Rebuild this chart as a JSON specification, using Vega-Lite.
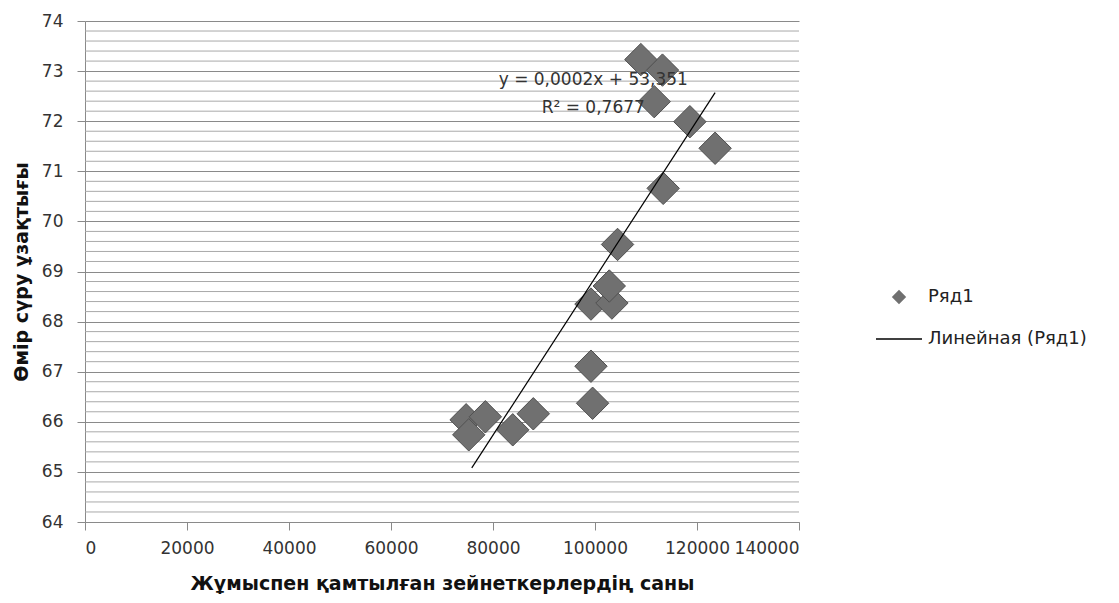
{
  "$schema": "https://vega.github.io/schema/vega-lite/v6.json",
  "width": 714,
  "height": 501,
  "autosize": {"type": "none"},
  "padding": {"left": 85, "top": 21, "right": 320, "bottom": 81},
  "background": "white",
  "datasets": {
    "points": [
      {"x": 74730, "y": 66.04, "series": "Ряд1"},
      {"x": 75250, "y": 65.74, "series": "Ряд1"},
      {"x": 78500, "y": 66.1, "series": "Ряд1"},
      {"x": 83870, "y": 65.84, "series": "Ряд1"},
      {"x": 87900, "y": 66.16, "series": "Ряд1"},
      {"x": 99530, "y": 66.37, "series": "Ряд1"},
      {"x": 99210, "y": 67.11, "series": "Ряд1"},
      {"x": 99210, "y": 68.35, "series": "Ряд1"},
      {"x": 103320, "y": 68.37, "series": "Ряд1"},
      {"x": 102800, "y": 68.71, "series": "Ряд1"},
      {"x": 104420, "y": 69.54, "series": "Ряд1"},
      {"x": 113370, "y": 70.66, "series": "Ряд1"},
      {"x": 123550, "y": 71.46, "series": "Ряд1"},
      {"x": 118600, "y": 71.99, "series": "Ряд1"},
      {"x": 111610, "y": 72.39, "series": "Ряд1"},
      {"x": 113230, "y": 73.02, "series": "Ряд1"},
      {"x": 108990, "y": 73.23, "series": "Ряд1"}
    ],
    "trend": [
      {"x": 75840, "y": 65.08, "series": "Линейная (Ряд1)"},
      {"x": 123550, "y": 72.57, "series": "Линейная (Ряд1)"}
    ],
    "minor": [
      {"g": 64.2}, {"g": 64.4}, {"g": 64.6}, {"g": 64.8},
      {"g": 65.2}, {"g": 65.4}, {"g": 65.6}, {"g": 65.8},
      {"g": 66.2}, {"g": 66.4}, {"g": 66.6}, {"g": 66.8},
      {"g": 67.2}, {"g": 67.4}, {"g": 67.6}, {"g": 67.8},
      {"g": 68.2}, {"g": 68.4}, {"g": 68.6}, {"g": 68.8},
      {"g": 69.2}, {"g": 69.4}, {"g": 69.6}, {"g": 69.8},
      {"g": 70.2}, {"g": 70.4}, {"g": 70.6}, {"g": 70.8},
      {"g": 71.2}, {"g": 71.4}, {"g": 71.6}, {"g": 71.8},
      {"g": 72.2}, {"g": 72.4}, {"g": 72.6}, {"g": 72.8},
      {"g": 73.2}, {"g": 73.4}, {"g": 73.6}, {"g": 73.8}
    ],
    "notes": [
      {"txt": "y = 0,0002x + 53,351", "ax": 99660, "ay": 72.82},
      {"txt": "R² = 0,7677", "ax": 99660, "ay": 72.26}
    ]
  },
  "layer": [
    {
      "data": {"name": "minor"},
      "mark": {"type": "rule", "color": "#a9a9a9", "strokeWidth": 1},
      "encoding": {
        "y": {
          "field": "g",
          "type": "quantitative",
          "scale": {"domain": [64, 74], "nice": false, "zero": false},
          "axis": {
            "title": "Өмір сүру ұзақтығы",
            "values": [64, 65, 66, 67, 68, 69, 70, 71, 72, 73, 74]
          }
        }
      }
    },
    {
      "data": {"name": "points"},
      "mark": {"type": "point", "shape": "diamond", "filled": true, "size": 1050, "opacity": 1, "color": "#707070", "stroke": "#505050", "strokeWidth": 1},
      "encoding": {
        "x": {
          "field": "x",
          "type": "quantitative",
          "scale": {"domain": [0, 140000], "nice": false},
          "axis": {
            "title": "Жұмыспен қамтылған зейнеткерлердің саны",
            "values": [0, 20000, 40000, 60000, 80000, 100000, 120000, 140000],
            "format": "d",
            "labelOverlap": false
          }
        },
        "y": {
          "field": "y",
          "type": "quantitative",
          "scale": {"domain": [64, 74], "nice": false, "zero": false},
          "axis": {
            "title": "Өмір сүру ұзақтығы",
            "values": [64, 65, 66, 67, 68, 69, 70, 71, 72, 73, 74]
          }
        }
      }
    },
    {
      "data": {"name": "points"},
      "transform": [{"filter": "false"}],
      "mark": {"type": "point", "filled": true, "opacity": 1, "stroke": "#555555", "strokeWidth": 1},
      "encoding": {
        "x": {"field": "x", "type": "quantitative"},
        "y": {"field": "y", "type": "quantitative"},
        "color": {
          "field": "series",
          "type": "nominal",
          "scale": {"domain": ["Ряд1", "Линейная (Ряд1)"], "range": ["#707070", "#000000"]},
          "legend": {
            "title": null,
            "orient": "none",
            "legendX": 790,
            "legendY": 267,
            "padding": 0,
            "labelOffset": 5,
            "rowPadding": 8,
            "labelFont": "DejaVu Sans",
            "labelFontSize": 18,
            "labelColor": "#222222"
          }
        },
        "shape": {
          "field": "series",
          "type": "nominal",
          "scale": {"domain": ["Ряд1", "Линейная (Ряд1)"], "range": ["diamond", "stroke"]},
          "legend": {
            "title": null,
            "orient": "none",
            "legendX": 790,
            "legendY": 267,
            "padding": 0,
            "labelOffset": 5,
            "rowPadding": 8,
            "labelFont": "DejaVu Sans",
            "labelFontSize": 18,
            "labelColor": "#222222"
          }
        },
        "size": {
          "field": "series",
          "type": "nominal",
          "scale": {"domain": ["Ряд1", "Линейная (Ряд1)"], "range": [150, 2116]},
          "legend": {
            "title": null,
            "orient": "none",
            "legendX": 790,
            "legendY": 267,
            "padding": 0,
            "labelOffset": 5,
            "rowPadding": 8,
            "labelFont": "DejaVu Sans",
            "labelFontSize": 18,
            "labelColor": "#222222"
          }
        }
      }
    },
    {
      "data": {"name": "trend"},
      "mark": {"type": "line", "strokeWidth": 1.2},
      "encoding": {
        "x": {"field": "x", "type": "quantitative"},
        "y": {"field": "y", "type": "quantitative"},
        "color": {"field": "series", "type": "nominal"}
      }
    },
    {
      "data": {"name": "notes"},
      "mark": {"type": "text", "font": "DejaVu Sans", "fontSize": 17, "color": "#333333", "align": "center", "baseline": "middle"},
      "encoding": {
        "x": {"field": "ax", "type": "quantitative"},
        "y": {"field": "ay", "type": "quantitative"},
        "text": {"field": "txt", "type": "nominal"}
      }
    }
  ],
  "config": {
    "view": {"stroke": null},
    "axis": {
      "domainColor": "#8a8a8a",
      "tickColor": "#8a8a8a",
      "tickSize": 8,
      "labelFont": "DejaVu Sans",
      "labelFontSize": 17,
      "labelColor": "#333333",
      "titleFont": "DejaVu Sans",
      "titleFontWeight": "bold",
      "titleColor": "#111111"
    },
    "axisX": {"grid": false, "labelPadding": 10, "titleFontSize": 19, "titlePadding": 18},
    "axisY": {"grid": true, "gridColor": "#8a8a8a", "labelPadding": 14, "titleFontSize": 19, "titlePadding": 10}
  }
}
